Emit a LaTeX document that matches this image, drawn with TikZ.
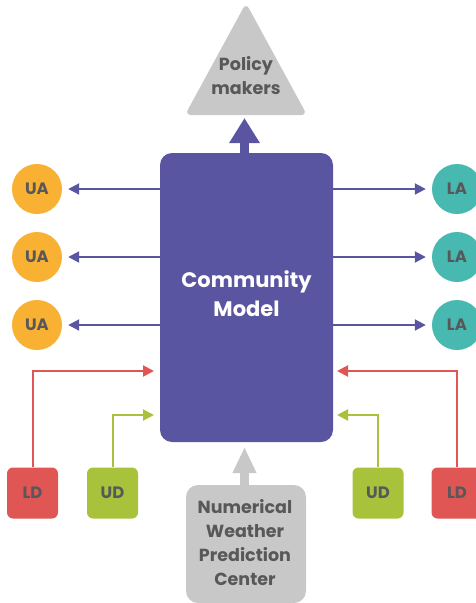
\documentclass[tikz,border=0pt]{standalone}
\usepackage{fontspec}
\setsansfont{Poppins}
\usetikzlibrary{arrows.meta}
\definecolor{modelpurple}{HTML}{5A55A0}
\definecolor{uaorange}{HTML}{F8B133}
\definecolor{lateal}{HTML}{47B9B1}
\definecolor{ldred}{HTML}{DF5654}
\definecolor{udgreen}{HTML}{A8C23C}
\definecolor{softgray}{HTML}{C8C8C8}
\definecolor{labelgray}{HTML}{58585A}
\tikzset{
  lbl/.style={font=\sffamily\bfseries\fontsize{16.5}{18}\selectfont, text=labelgray},
  biglbl/.style={lbl, align=center, font=\sffamily\bfseries\fontsize{17.5}{24}\selectfont},
  uanode/.style={circle, fill=uaorange, minimum size=50pt, inner sep=0pt, lbl},
  lanode/.style={circle, fill=lateal, minimum size=50pt, inner sep=0pt, lbl},
  datanode/.style={rounded corners=6pt, minimum width=51pt, minimum height=51pt, inner sep=0pt, lbl},
  thin arrow/.style={line width=2pt, -{Triangle[length=11pt,width=11pt]}},
}
\begin{document}
\begin{tikzpicture}[x=1pt,y=-1pt]
\useasboundingbox (0,0) rectangle (476,603);

% central model block
\node[fill=modelpurple, rounded corners=12pt, minimum width=173pt, minimum height=289pt,
      inner sep=0pt] (model) at (246.5,297.5) {};
\node[text=white, align=center, font=\sffamily\bfseries\fontsize{21}{29}\selectfont]
      (modeltext) at (246.5,294) {Community\\Model};

% policy makers triangle
\fill[softgray, rounded corners=6pt] (185,115) -- (246,3) -- (307,115) -- cycle;
\node[biglbl] (policy) at (246,76) {Policy\\makers};
\coordinate (tribase) at (244.5,118);
\draw[modelpurple, line width=9pt, -{Triangle[length=25pt,width=29pt]}] (model.north -| tribase) -- (tribase);

% numerical weather prediction centre
\node[fill=softgray, rounded corners=12pt, minimum width=120pt, minimum height=118pt, inner sep=0pt] (nwp) at (246,544) {};
\node[biglbl] (nwptext) at (245,543) {Numerical\\Weather\\Prediction\\Center};
\coordinate (nwptip) at (244.5,447);
\draw[softgray, line width=9pt, -{Triangle[length=26pt,width=22pt]}] (nwp.north -| nwptip) -- (nwptip);

% user applications (left)
\node[uanode] (ua1) at (37,189) {UA};
\node[uanode] (ua2) at (37,257) {UA};
\node[uanode] (ua3) at (37,325) {UA};
% local applications (right)
\node[lanode] (la1) at (457,189) {LA};
\node[lanode] (la2) at (457,257) {LA};
\node[lanode] (la3) at (457,325) {LA};

\foreach \n in {1,2,3}{
  \draw[modelpurple, thin arrow] (model.west |- ua\n) -- ([xshift=6pt]ua\n.east);
  \draw[modelpurple, thin arrow] (model.east |- la\n) -- ([xshift=-6pt]la\n.west);
}

% data sources
\node[datanode, fill=ldred] (ldl) at (32.5,493) {LD};
\node[datanode, fill=udgreen] (udl) at (112.5,493) {UD};
\node[datanode, fill=udgreen] (udr) at (378,493) {UD};
\node[datanode, fill=ldred] (ldr) at (457,493) {LD};

\coordinate (ldltip) at (154,371);
\coordinate (udltip) at (154,415);
\coordinate (udrtip) at (337,415);
\coordinate (ldrtip) at (337,371);
\draw[ldred, thin arrow] (ldl.north) |- (ldltip);
\draw[udgreen, thin arrow] (udl.north) |- (udltip);
\draw[udgreen, thin arrow] (udr.north) |- (udrtip);
\draw[ldred, thin arrow] (ldr.north) |- (ldrtip);
\end{tikzpicture}
\end{document}
